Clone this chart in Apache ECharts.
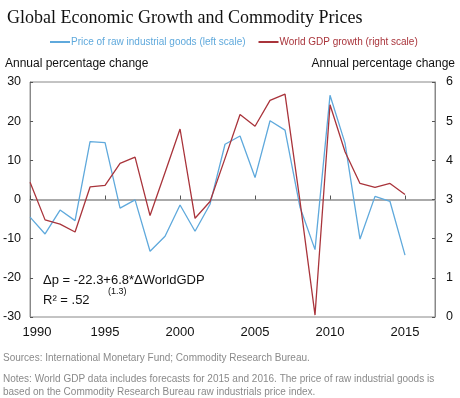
<!DOCTYPE html>
<html>
<head>
<meta charset="utf-8">
<script src="https://cdn.jsdelivr.net/npm/echarts@6/dist/echarts.min.js"></script>
<style>
  html, body { margin: 0; padding: 0; background: #fff; }
  #chart { width: 460px; height: 398px; }
</style>
</head>
<body>
<div id="chart"></div>
<script>
// years on the x axis
const years = [1990, 1991, 1992, 1993, 1994, 1995, 1996, 1997, 1998, 1999,
  2000, 2001, 2002, 2003, 2004, 2005, 2006, 2007, 2008, 2009,
  2010, 2011, 2012, 2013, 2014, 2015]
// price of raw industrial goods, % change (left scale)
const rawGoods = [-4.5, -8.8, -2.7, -5.4, 14.8, 14.5, -2.2, -0.1, -13.2, -9.4,
  -1.4, -8.1, -1.2, 14.1, 16.2, 5.6, 20.1, 17.7, -2.0, -12.8,
  26.6, 14.4, -10.1, 0.8, -0.5, -14.2]
// world GDP growth, % (right scale)
const worldGdp = [3.44, 2.48, 2.37, 2.17, 3.32, 3.36, 3.92, 4.08, 2.59, 3.69,
  4.80, 2.52, 2.95, 4.05, 5.17, 4.87, 5.53, 5.69, 2.95, 0.05,
  5.42, 4.22, 3.41, 3.31, 3.41, 3.13]

const blue = '#5fa9dc'
const red = '#a9343b'

const chart = echarts.init(document.getElementById('chart'))

const option = {
  animation: false,
  textStyle: { fontFamily: 'Liberation Sans, Arial, sans-serif' },
  title: {
    text: 'Global Economic Growth and Commodity Prices',
    left: 2,
    top: 4,
    textStyle: {
      fontFamily: 'Liberation Serif, serif',
      fontSize: 18,
      fontWeight: 'normal',
      color: '#111'
    }
  },
  legend: {
    top: 32,
    left: 45,
    itemWidth: 20,
    itemHeight: 2,
    itemGap: 13,
    icon: 'rect',
    textStyle: { fontSize: 10, padding: [0, 0, 0, -4] },
    data: [
      { name: 'Price of raw industrial goods (left scale)', textStyle: { color: blue } },
      { name: 'World GDP growth (right scale)', textStyle: { color: red } }
    ]
  },
  grid: {
    left: 30,
    right: 25,
    top: 82,
    bottom: 81,
    show: true,
    borderColor: '#888',
    borderWidth: 1
  },
  xAxis: {
    type: 'value',
    min: 1990,
    max: 2017,
    interval: 5,
    axisLine: { show: true, lineStyle: { color: '#aaa', width: 2 } },
    axisTick: { show: true, inside: true, length: 4, lineStyle: { color: '#555' } },
    splitLine: { show: false },
    axisLabel: {
      color: '#111',
      fontSize: 13,
      margin: 9,
      showMaxLabel: false,
      formatter: (v) => (v === 1990 ? '{a|' + v + '}' : String(v)),
      rich: { a: { fontSize: 13, color: '#111', padding: [0, 0, 0, 14] } }
    }
  },
  yAxis: [
    {
      type: 'value',
      min: -30,
      max: 30,
      interval: 10,
      axisLine: { show: true, lineStyle: { color: '#888' } },
      axisTick: { show: true, inside: true, length: 3, lineStyle: { color: '#555' } },
      splitLine: { show: false },
      axisLabel: { color: '#111', fontSize: 12.5, margin: 9 }
    },
    {
      type: 'value',
      min: 0,
      max: 6,
      interval: 1,
      position: 'right',
      axisLine: { show: true, lineStyle: { color: '#888' } },
      axisTick: { show: true, inside: true, length: 3, lineStyle: { color: '#555' } },
      splitLine: { show: false },
      axisLabel: { color: '#111', fontSize: 12.5, margin: 11 }
    }
  ],
  graphic: [
    { type: 'text', left: 5, top: 58, style: { text: 'Annual percentage change', fontSize: 12, fill: '#111', fontFamily: 'Liberation Sans' } },
    { type: 'text', right: 5, top: 58, style: { text: 'Annual percentage change', fontSize: 12, fill: '#111', fontFamily: 'Liberation Sans' } },
    { type: 'text', left: 43, top: 274, style: { text: 'Δp = -22.3+6.8*ΔWorldGDP', fontSize: 13, fill: '#111', fontFamily: 'Liberation Sans' } },
    { type: 'text', left: 108, top: 287, style: { text: '(1.3)', fontSize: 9, fill: '#111', fontFamily: 'Liberation Sans' } },
    { type: 'text', left: 43, top: 294, style: { text: 'R² = .52', fontSize: 13, fill: '#111', fontFamily: 'Liberation Sans' } },
    { type: 'text', left: 3, top: 353, style: { text: 'Sources: International Monetary Fund; Commodity Research Bureau.', fontSize: 10, fill: '#8a8a8a', fontFamily: 'Liberation Sans' } },
    { type: 'text', left: 3, top: 373, style: { text: 'Notes: World GDP data includes forecasts for 2015 and 2016. The price of raw industrial goods is\nbased on the Commodity Research Bureau raw industrials price index.', fontSize: 10, lineHeight: 13, fill: '#8a8a8a', fontFamily: 'Liberation Sans' } }
  ],
  series: [
    {
      name: 'Price of raw industrial goods (left scale)',
      type: 'line',
      yAxisIndex: 0,
      showSymbol: false,
      lineStyle: { color: blue, width: 1.3 },
      itemStyle: { color: blue },
      data: years.map((y, i) => [y, rawGoods[i]])
    },
    {
      name: 'World GDP growth (right scale)',
      type: 'line',
      yAxisIndex: 1,
      showSymbol: false,
      lineStyle: { color: red, width: 1.3 },
      itemStyle: { color: red },
      data: years.map((y, i) => [y, worldGdp[i]])
    }
  ]
}

chart.setOption(option)
</script>
</body>
</html>
